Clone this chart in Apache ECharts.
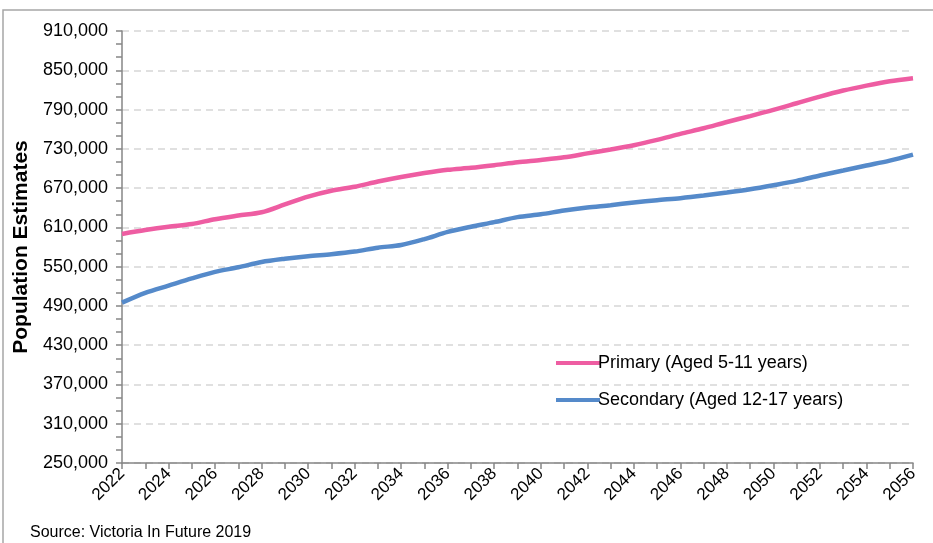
<!DOCTYPE html>
<html>
<head>
<meta charset="utf-8">
<script src="https://cdn.jsdelivr.net/npm/echarts@6/dist/echarts.min.js"></script>
<style>
  html, body { margin: 0; padding: 0; background: #fff; }
  #chart { width: 933px; height: 543px; }
</style>
</head>
<body>
<div id="chart"></div>
<script>
// years on the x axis
const years = []
for (let y = 2022; y <= 2056; y++) years.push(String(y))

const primary = [
  600000, 606000, 611000, 615000, 622500, 628000, 633000, 645000, 657000, 666000,
  672000, 680000, 687000, 693000, 698000, 701000, 705000, 709500, 713000, 717000,
  723000, 729000, 735500, 743600, 752800, 761400, 771000, 780000, 789400, 799600,
  809800, 819000, 826600, 833200, 837800
]
const secondary = [
  495000, 510000, 521000, 532000, 542000, 549000, 557000, 562000, 566000, 569000,
  573000, 579000, 583000, 592000, 603000, 611000, 618000, 625600, 630000, 635700,
  640300, 643900, 648000, 651500, 654600, 658600, 663200, 668300, 674400, 681000,
  689200, 696800, 704400, 712000, 721200
]
const seriesNames = ['Primary (Aged 5-11 years)', 'Secondary (Aged 12-17 years)']
const yMin = 250000
const yMax = 910000
const yStep = 60000

const chart = echarts.init(document.getElementById('chart'), null, { renderer: 'canvas' })
const font = 'Arial, "Liberation Sans", sans-serif'
const axisGray = '#868686'

chart.setOption({
  animation: false,
  textStyle: { fontFamily: font },
  grid: { left: 122, right: 20, top: 31, bottom: 80 },
  graphic: [
    {
      type: 'rect', z: -10, silent: true,
      shape: { x: 3, y: 10, width: 1000, height: 1000 },
      style: { fill: 'none', stroke: '#a6a6a6', lineWidth: 1.5 }
    },
    {
      type: 'text', left: 30, top: 525,
      style: { text: 'Source: Victoria In Future 2019', font: '16px ' + font, fill: '#000' }
    }
  ],
  legend: {
    orient: 'vertical',
    left: 551, top: 348,
    icon: 'rect',
    itemWidth: 44, itemHeight: 4, itemGap: 17,
    textStyle: { fontSize: 18, color: '#000', lineHeight: 20, padding: [0, 0, 0, -7] },
    data: seriesNames
  },
  xAxis: {
    type: 'category',
    data: years,
    boundaryGap: false,
    axisLine: { lineStyle: { color: axisGray, width: 1.5 } },
    axisTick: { interval: 0, length: 6, lineStyle: { color: axisGray, width: 1.5 } },
    axisLabel: { interval: 1, rotate: 45, fontSize: 17, color: '#000', margin: 8 }
  },
  yAxis: {
    type: 'value',
    min: yMin, max: yMax, interval: yStep,
    name: 'Population Estimates',
    nameLocation: 'middle',
    nameGap: 90,
    nameTextStyle: { fontSize: 21, fontWeight: 'bold', color: '#000' },
    axisLine: { show: true, lineStyle: { color: axisGray, width: 1.5 } },
    axisTick: { show: true, length: 6, lineStyle: { color: axisGray, width: 1.5 } },
    minorTick: { show: true, splitNumber: 3, length: 6, lineStyle: { color: axisGray, width: 1.5 } },
    axisLabel: {
      fontSize: 18, color: '#000', margin: 14,
      formatter: v => v.toLocaleString('en-US')
    },
    splitLine: { lineStyle: { color: '#d6d6d6', width: 1.5, type: [7, 5] } }
  },
  series: [
    {
      name: seriesNames[0], type: 'line', data: primary,
      smooth: 0.3, symbol: 'none',
      lineStyle: { width: 4.5, color: '#ee5da2' }, itemStyle: { color: '#ee5da2' }
    },
    {
      name: seriesNames[1], type: 'line', data: secondary,
      smooth: 0.3, symbol: 'none',
      lineStyle: { width: 4.5, color: '#558aca' }, itemStyle: { color: '#558aca' }
    }
  ]
})
</script>
</body>
</html>
